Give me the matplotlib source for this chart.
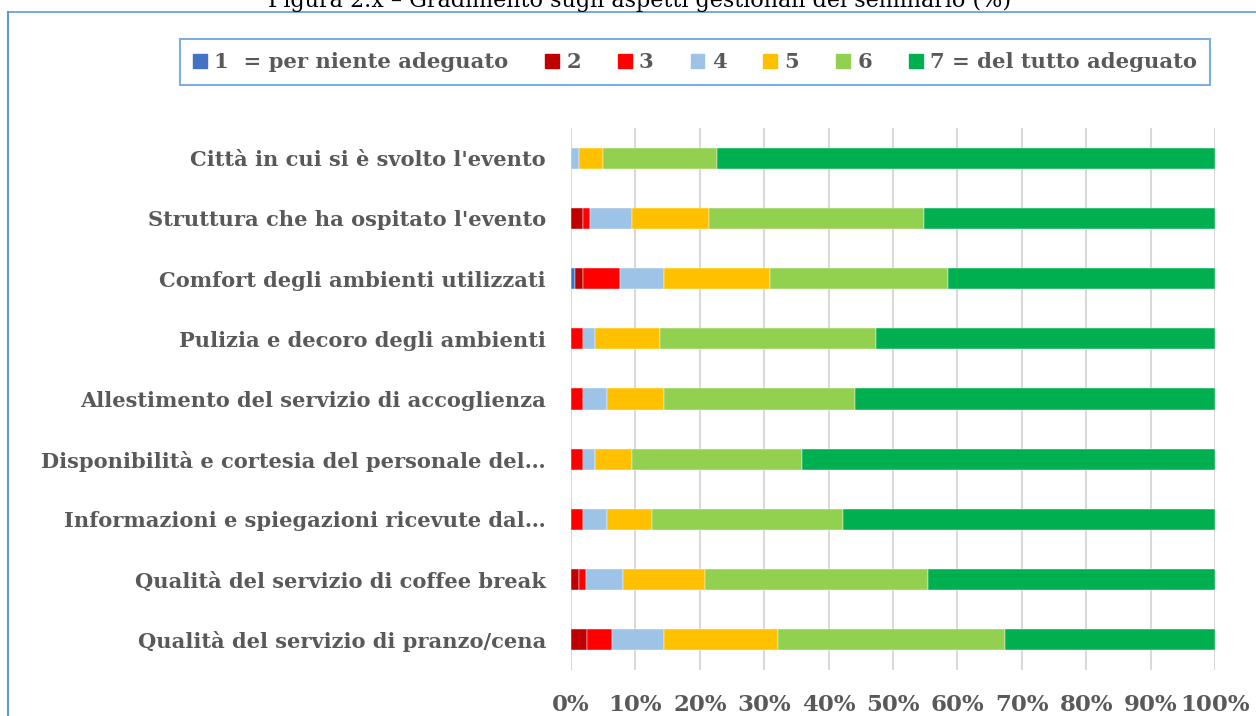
import numpy as np
import matplotlib.pyplot as plt
import matplotlib.patches as mpatches

categories = [
    "Città in cui si è svolto l'evento",
    "Struttura che ha ospitato l'evento",
    "Comfort degli ambienti utilizzati",
    "Pulizia e decoro degli ambienti",
    "Allestimento del servizio di accoglienza",
    "Disponibilità e cortesia del personale del…",
    "Informazioni e spiegazioni ricevute dal…",
    "Qualità del servizio di coffee break",
    "Qualità del servizio di pranzo/cena",
]

series_names = ["1  = per niente adeguato", "2", "3", "4", "5", "6",
                "7 = del tutto adeguato"]

s1 = [0.0, 0.0, 0.6, 0.0, 0.0, 0.0, 0.0, 0.0, 0.0]
s2 = [0.0, 1.8, 1.2, 0.0, 0.0, 0.0, 0.0, 1.2, 2.5]
s3 = [0.0, 1.2, 5.8, 1.8, 1.8, 1.8, 1.8, 1.2, 3.8]
s4 = [1.2, 6.4, 6.9, 1.9, 3.8, 1.9, 3.8, 5.7, 8.2]
s5 = [3.8, 12.0, 16.4, 10.1, 8.9, 5.7, 7.0, 12.7, 17.7]
s6 = [17.6, 33.4, 27.7, 33.5, 29.6, 26.5, 29.7, 34.7, 35.2]
s7 = [77.4, 45.2, 41.4, 52.7, 55.9, 64.1, 57.7, 44.5, 32.6]

colors = ["#4472C4", "#C00000", "#FF0000", "#9DC3E6", "#FFC000", "#92D050", "#00B050"]

title = "Figura 2.x – Gradimento sugli aspetti gestionali del seminario (%)"

W, H = 1256, 716
fig = plt.figure(figsize=(W / 100, H / 100), dpi=100)
txt_color = "#595959"
font = "DejaVu Serif"

# outer frame (top and left visible)
fig.add_artist(plt.Line2D([8 / W, 8 / W], [0, 1 - 12 / H], color="#5B9BD5", lw=1.5))
fig.add_artist(plt.Line2D([8 / W, 1], [1 - 12 / H, 1 - 12 / H], color="#5B9BD5", lw=1.2))
fig.text(640 / W, 1 - 7 / H, title, ha="center", va="baseline", fontsize=16,
         family=font, color="black")

ax = fig.add_axes([571 / W, 1 - 670 / H, (1215 - 571) / W, (670 - 128) / H])

data = np.array([s1, s2, s3, s4, s5, s6, s7])
y = np.arange(len(categories))
left = np.zeros(len(categories))
for vals, name, c in zip(data, series_names, colors):
    ax.barh(y, vals, left=left, height=0.35, color=c, label=name, zorder=3,
            edgecolor="white", linewidth=0.3)
    left += vals

ax.set_xlim(0, 100)
ax.set_ylim(len(categories) - 0.5, -0.5)
ax.set_yticks(y)
ax.set_yticklabels(categories)
ax.set_xticks(np.arange(0, 101, 10))
ax.set_xticklabels([f"{v}%" for v in range(0, 101, 10)])
ax.tick_params(axis="y", length=0, pad=18)
ax.tick_params(axis="x", length=0, pad=17)
for lab in ax.get_yticklabels():
    lab.set_fontsize(15.1)
for lab in ax.get_xticklabels():
    lab.set_fontsize(16.5)
for lab in ax.get_yticklabels() + ax.get_xticklabels():
    lab.set_fontfamily(font)
    lab.set_fontweight("bold")
    lab.set_color(txt_color)
ax.grid(axis="x", color="#D9D9D9", lw=1.5, zorder=0)
for sp in ax.spines.values():
    sp.set_visible(False)

handles = [mpatches.Patch(color=c, label=n) for n, c in zip(series_names, colors)]
leg = fig.legend(handles=handles, loc="center", ncol=7,
                 bbox_to_anchor=(695 / W, 1 - 62 / H), frameon=True, fancybox=False,
                 handlelength=0.65, handleheight=0.65, handletextpad=0.35,
                 columnspacing=1.75, borderpad=0.6,
                 prop={"family": font, "weight": "bold", "size": 15.2})
leg.get_frame().set_edgecolor("#5B9BD5")
leg.get_frame().set_linewidth(1.5)
for t in leg.get_texts():
    t.set_color(txt_color)

fig.savefig("out.png", dpi=100)
